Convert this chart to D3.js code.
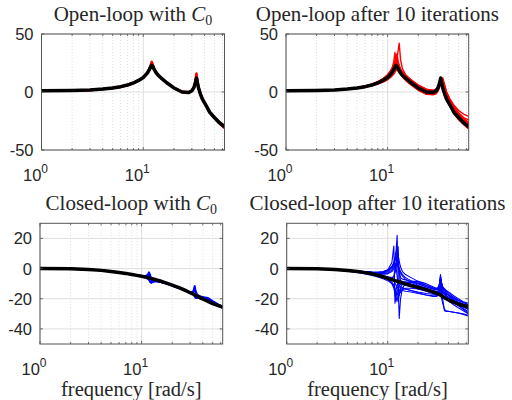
<!DOCTYPE html>
<html>
<head>
<meta charset="utf-8">
<script src="https://cdn.jsdelivr.net/npm/d3@7"></script>
<style>
  body { margin: 0; background: #fff; }
  svg { display: block; }
</style>
</head>
<body>
<div class="chart"></div>
<script>
// frequency grid [rad/s] shared by all curves
var freq = [1, 2, 3, 4, 5, 6, 7, 8, 9, 10, 11, 11.5, 11.8, 12.1, 12.4, 12.7, 13, 13.4, 14, 15, 17, 20, 24, 28, 30, 31.5, 32.5, 33.3, 34, 35, 36.5, 38, 41, 45, 50, 56, 62.8];

// open-loop, nominal (black) - same in both top panels
var olNominal = [1, 1.3, 1.8, 2.5, 3.5, 4.6, 6, 7.8, 10, 12.5, 16.5, 19.5, 21.5, 23, 22, 20, 18.5, 16.5, 14.5, 12, 8, 3.5, 0, -0.5, 1, 4, 8, 12, 8, 3, -2, -6, -11, -17.5, -22, -26.5, -30];

// open-loop with C0, perturbed plants (red)
var olRedC0 = [
  [1, 1.3, 1.8, 2.5, 3.5, 4.6, 6, 7.8, 10, 12.5, 16.8, 20, 23, 26, 23.5, 20.5, 18.5, 16.5, 14.5, 12, 8, 3.5, 0, -0.5, 1, 4.5, 9, 16, 10, 3.5, -2, -6, -11, -17.5, -22.5, -27, -31],
  [1, 1.3, 1.8, 2.5, 3.5, 4.6, 6, 7.8, 10, 12.5, 16.5, 19.5, 22, 24.5, 23, 20.5, 18.8, 16.8, 14.8, 12.2, 8.2, 3.7, 0.2, -0.3, 1.2, 4.2, 8.5, 14, 9, 3.2, -1.8, -5.8, -10.8, -17.2, -21.8, -26, -29]
];

// open-loop after 10 iterations (red)
var olRedIter = [
  [1, 1.3, 1.8, 2.6, 3.6, 4.8, 6.3, 8.2, 10.5, 13.5, 18, 21, 23.5, 26, 30, 36, 42, 28, 20, 15, 10, 5, 1.5, 0.5, 2, 5, 8.5, 11, 9, 4, -1, -5, -10, -16, -21, -25.5, -29],
  [1, 1.3, 1.8, 2.6, 3.7, 5, 6.6, 8.6, 11, 14.5, 20, 26, 34, 25, 21, 19, 17.5, 16, 14, 11.5, 7.5, 3, -0.5, -1, 0.5, 3, 6.5, 10, 9, 5, 0, -4, -9, -15, -20, -24.5, -28],
  [1, 1.3, 1.9, 2.7, 3.8, 5.2, 6.8, 9, 11.5, 15, 20, 23, 25, 27, 28, 26, 23, 20, 17, 14.5, 10.5, 6, 2.5, 1.5, 2.5, 4.5, 6.5, 8, 9.5, 10, 5, 0, -6, -11.5, -16, -19, -21],
  [1, 1.2, 1.6, 2.2, 3, 4, 5.3, 6.8, 8.5, 10.5, 13.5, 15.5, 17, 18.5, 19.5, 19, 17.5, 15.5, 13, 10, 6, 1.5, -2, -2.5, -1.5, 1, 4, 8, 11, 7, 1, -4, -10, -17, -23, -28, -32],
  [1, 1.3, 1.8, 2.5, 3.5, 4.7, 6.2, 8, 10.3, 13, 17.5, 21, 24, 29, 33, 26, 21, 18, 15.5, 13, 9, 4.5, 1, 0, 1, 3, 5.5, 8, 10.5, 12, 6, 0, -6, -12.5, -18, -22, -24],
  [1, 1.3, 1.8, 2.5, 3.4, 4.5, 5.9, 7.6, 9.7, 12, 15.5, 18, 20, 21.5, 21, 20, 19, 17, 15, 12.5, 8.5, 4, 0.5, -1, 0, 2.5, 5.5, 9, 12, 9, 3, -2, -8, -14.5, -20, -24, -27],
  [1, 1.3, 1.8, 2.6, 3.6, 4.8, 6.3, 8.2, 10.5, 13.5, 18, 22, 26, 32, 27, 23, 20.5, 18, 15.5, 13, 9, 4.5, 1, 0, 1.5, 4.5, 9, 13, 8, 2, -3.5, -7.5, -12.5, -19, -24, -28, -31],
  [1, 1.3, 1.8, 2.6, 3.7, 5, 6.6, 8.5, 11, 14, 19, 22.5, 25, 27, 25, 22.5, 20.5, 18.5, 16.5, 14, 10, 5.5, 2, 1, 2.5, 5.5, 9, 12.5, 10, 5, -0.5, -4.5, -9.5, -15.5, -20.5, -24.5, -28],
  [1, 1.2, 1.7, 2.3, 3.2, 4.3, 5.6, 7.2, 9, 11.5, 15, 17.5, 19, 20, 19.5, 18, 16.5, 15, 13, 10.5, 6.5, 2, -1.5, -2, -1, 2, 5.5, 10, 10.5, 6, 0.5, -4.5, -10.5, -17, -22.5, -27, -30.5],
  [1, 1.3, 1.9, 2.7, 3.8, 5.1, 6.7, 8.8, 11.3, 14.5, 19.5, 23.5, 27, 30, 28, 24.5, 22, 19.5, 17, 14, 10, 5.5, 2, 0.5, 1.5, 4, 7, 10.5, 11.5, 8, 2, -3, -8.5, -14.5, -19.5, -23.5, -26.5],
  [1, 1.3, 1.8, 2.5, 3.5, 4.7, 6.1, 7.9, 10, 12.8, 17, 20, 22.5, 24.5, 24, 22.5, 21, 19, 17, 14.5, 10.5, 6, 2.5, 1, 1.5, 3.5, 6, 9, 10, 8, 3.5, -1, -7, -13.5, -19, -23, -26]
];

// closed-loop with C0: nominal (black) and perturbed (blue)
var clNominalC0 = [0, -0.2, -0.6, -1.2, -1.9, -2.6, -3.2, -3.9, -4.5, -5.1, -5.7, -6, -6.2, -6.4, -6.5, -6.7, -6.9, -7.1, -7.5, -8.1, -9.3, -11, -13, -15, -16, -16.6, -17, -17.4, -17.7, -18.2, -18.8, -19.4, -20.5, -21.8, -23.2, -24.4, -25.5];
var clBlueC0 = [
  [0, -0.2, -0.6, -1.2, -1.9, -2.6, -3.2, -3.9, -4.5, -5, -5, -4, -2.5, -4, -7, -8.5, -8.5, -8.2, -8.2, -8.6, -9.5, -11, -13, -15, -15.8, -16, -14.5, -11.5, -15, -17, -18, -18.5, -19, -19.5, -21.5, -23.5, -25.5],
  [0, -0.2, -0.6, -1.2, -1.9, -2.6, -3.2, -3.9, -4.5, -5.1, -5.6, -5.2, -4.5, -5.5, -7.5, -9, -8.8, -8.5, -8.3, -8.8, -9.6, -11.2, -13.2, -15, -15.6, -15.8, -15, -13, -16.5, -18, -18.6, -19, -19.5, -20.2, -22, -24, -26],
  [0, -0.2, -0.6, -1.2, -1.9, -2.6, -3.2, -3.9, -4.6, -5.3, -6.2, -6.8, -7.5, -8.8, -9.5, -9, -8.5, -8.3, -8.4, -8.8, -9.5, -11.2, -13.3, -15.2, -16.2, -16.8, -17.5, -18.5, -19.5, -19.5, -19.5, -19.8, -20.5, -21.5, -23, -24.5, -26]
];

// closed-loop after 10 iterations: nominal (black) and perturbed (blue)
var clNominalIter = [0, -0.2, -0.7, -1.3, -2, -2.7, -3.5, -4.4, -5.4, -6.4, -7.3, -7.7, -8, -8.2, -8.4, -8.6, -8.8, -9.1, -9.5, -10.2, -11.3, -12.5, -14, -15.5, -16.2, -16.8, -17.2, -17.6, -18, -18.5, -19.3, -20, -21.2, -22.3, -23.5, -24.5, -25.3];
var clBlueIter = [
  [0, -0.2, -0.6, -1.1, -1.7, -2.2, -2.7, -3.1, -3.3, -3, -1, 2, 6, 12, 22, -10, -33, -20, -13, -10, -8.5, -8.5, -10, -12, -13, -13.5, -12, -6, -10, -14, -16, -17, -18, -19.5, -21, -22.5, -24],
  [0, -0.2, -0.6, -1.1, -1.7, -2.3, -2.8, -3, -2.5, -1, 4, 15, -23, -14, -11, -9.5, -9, -8.5, -8.5, -9, -10, -11.5, -13, -14.5, -15, -15, -13, -8, -13, -16, -17, -18, -19.5, -21, -23, -25, -27],
  [0, -0.2, -0.6, -1.2, -1.8, -2.4, -2.8, -3, -2.8, -1.5, 1, 3.5, 5.5, 8, 6, 2, 0, -2, -4, -6, -8, -10, -12, -13.5, -14, -14, -12, -4, -9, -13, -15, -16.5, -18, -20, -22, -23.5, -25],
  [0, -0.2, -0.7, -1.4, -2.2, -3, -3.8, -4.6, -5.5, -7, -10, -13, -17, -22, -18, -15, -14, -14, -14.5, -15, -15.5, -16.5, -17.5, -18, -18, -17.5, -16, -14, -17, -20, -28, -28.5, -28.5, -29, -29.5, -30, -31],
  [0, -0.2, -0.6, -1.2, -1.8, -2.4, -3, -3.5, -3.8, -3.5, -2, 0, 2, 4, 3, 1, -1, -3, -5, -7, -9, -11, -13, -15, -15.5, -15, -13, -9, -12, -15, -17, -18.5, -20, -22, -24.5, -27, -29.5],
  [0, -0.3, -0.8, -1.5, -2.3, -3.2, -4, -4.8, -5.8, -7, -9, -11, -13, -16, -19, -22, -17, -14, -13, -13.5, -14.5, -15.5, -16.5, -17, -17, -16.5, -15, -12, -16, -18, -19.5, -20.5, -21.5, -22.5, -24, -25.5, -27],
  [0, -0.2, -0.6, -1.1, -1.6, -2.1, -2.5, -2.6, -2.2, -1, 1.5, 4, 7, 10, 14, 6, -2, -6, -7, -7.5, -8.5, -10, -12, -13.5, -14, -13.5, -11.5, -7, -10, -12.5, -13.5, -14.5, -16, -18, -20, -22, -23],
  [0, -0.3, -0.8, -1.5, -2.3, -3.1, -3.9, -4.8, -5.6, -6.5, -7.5, -8.5, -9.5, -11, -13, -12, -11, -10.5, -10.5, -11, -12, -13.5, -15, -16.5, -17, -16.5, -15, -11, -14, -17, -19, -20.5, -22, -24, -26, -28, -30],
  [0, -0.2, -0.6, -1.1, -1.7, -2.2, -2.6, -2.9, -2.8, -2.2, 0, 2, 3, 1, -5, -12, -18, -13, -10, -9, -9, -9.5, -11, -12.5, -13, -12.5, -10, -5, -9, -12, -14, -16, -18.5, -21, -23, -25, -27],
  [0, -0.2, -0.7, -1.3, -2, -2.7, -3.5, -4.3, -5, -6, -7, -5, -2, 3, 9, 14.5, -8, -16, -14, -13, -13, -13.5, -14.5, -15.5, -16, -16, -15, -12, -15.5, -17.5, -18.5, -19.5, -21, -22.5, -24.5, -26.5, -28.5],
  [0, -0.3, -0.9, -1.7, -2.6, -3.6, -4.6, -5.6, -6.7, -8, -10, -12, -14, -17, -15, -13, -12, -12, -12.5, -13.5, -14.5, -16, -17.5, -18.5, -18.5, -18, -17, -16, -19, -23, -27, -28, -28.5, -29, -29.5, -30.5, -31.5],
  [0, -0.2, -0.5, -1, -1.5, -1.9, -2.2, -2.3, -2, -1, 1, 3, 5, 8, 11, 9, 5, 1, -2, -4, -6, -8.5, -11, -13, -13.5, -13, -11, -6.5, -9.5, -12, -13.5, -15, -17, -19, -21, -22.5, -24],
  [0, -0.2, -0.6, -1.2, -1.9, -2.6, -3.3, -4, -4.7, -5.5, -6, -5.5, -3, 1, 5, 3, -3, -8, -9.5, -10, -11, -12.5, -14, -15, -15.5, -15, -13.5, -9, -12.5, -15.5, -17, -18, -19.5, -21, -23, -25, -27]
];

var xDomain = [1, 62.8];
var xMajor = [1, 10];
var xMinor = [2, 3, 4, 5, 6, 7, 8, 9, 20, 30, 40, 50, 60];
var yTicksTop = [-50, 0, 50];
var yTicksBottom = [-40, -20, 0, 20];
var titleMain = ["Open-loop with ", "Open-loop after 10 iterations", "Closed-loop with ", "Closed-loop after 10 iterations"];
var xLabel = "frequency [rad/s]";

var width = 512, height = 400;
var svg = d3.select(".chart").append("svg")
    .attr("width", width)
    .attr("height", height);

// panel boxes in pixels
var panels = [
  {x0: 41.5, x1: 224.5, y0: 34, y1: 150, yDom: [-50, 50], yTicks: yTicksTop, title: titleMain[0], c0: true,
   colored: olRedC0, color: "#ff0000", width: 2.5, nominal: olNominal, xlab: false},
  {x0: 286, x1: 468.7, y0: 34, y1: 150, yDom: [-50, 50], yTicks: yTicksTop, title: titleMain[1], c0: false,
   colored: olRedIter, color: "#ff0000", width: 1.4, nominal: olNominal, xlab: false},
  {x0: 40, x1: 222.7, y0: 223.3, y1: 344, yDom: [-50, 30], yTicks: yTicksBottom, title: titleMain[2], c0: true,
   colored: clBlueC0, color: "#0000ff", width: 2, nominal: clNominalC0, xlab: true},
  {x0: 286.7, x1: 468.3, y0: 223.3, y1: 344, yDom: [-50, 30], yTicks: yTicksBottom, title: titleMain[3], c0: false,
   colored: clBlueIter, color: "#0000ff", width: 1.1, nominal: clNominalIter, xlab: true}
];

var tickFont = "'Liberation Sans', Arial, Helvetica, sans-serif";
var serifFont = "'Liberation Serif', 'DejaVu Serif', serif";

panels.forEach(function(p, i) {
  var x = d3.scaleLog().domain(xDomain).range([p.x0, p.x1]);
  var y = d3.scaleLinear().domain(p.yDom).range([p.y1, p.y0]);
  var g = svg.append("g");

  g.append("rect")
    .attr("x", p.x0).attr("y", p.y0)
    .attr("width", p.x1 - p.x0).attr("height", p.y1 - p.y0)
    .attr("fill", "#fff");

  // minor grid (dotted)
  g.selectAll(".minor").data(xMinor).enter().append("line")
    .attr("x1", d => x(d)).attr("x2", d => x(d))
    .attr("y1", p.y0).attr("y2", p.y1)
    .attr("stroke", "#d4d4d4").attr("stroke-width", 0.8)
    .attr("stroke-dasharray", "1,2");
  // major grid
  g.selectAll(".major").data(xMajor).enter().append("line")
    .attr("x1", d => x(d)).attr("x2", d => x(d))
    .attr("y1", p.y0).attr("y2", p.y1)
    .attr("stroke", "#dedede").attr("stroke-width", 1);
  g.selectAll(".ygrid").data(p.yTicks).enter().append("line")
    .attr("x1", p.x0).attr("x2", p.x1)
    .attr("y1", d => y(d)).attr("y2", d => y(d))
    .attr("stroke", "#dedede").attr("stroke-width", 1);

  // curves
  var clipId = "clip" + i;
  g.append("clipPath").attr("id", clipId).append("rect")
    .attr("x", p.x0).attr("y", p.y0)
    .attr("width", p.x1 - p.x0).attr("height", p.y1 - p.y0);
  var line = d3.line().x(d => x(d[0])).y(d => y(d[1]));
  var cg = g.append("g").attr("clip-path", "url(#" + clipId + ")");

  // perturbed curves first, nominal on top
  cg.selectAll(".pert").data(p.colored).enter().append("path")
    .attr("d", d => line(d3.zip(freq, d)))
    .attr("fill", "none")
    .attr("stroke", p.color)
    .attr("stroke-width", p.width)
    .attr("stroke-linejoin", "round");
  cg.append("path")
    .attr("d", line(d3.zip(freq, p.nominal)))
    .attr("fill", "none")
    .attr("stroke", "#000")
    .attr("stroke-width", 3.5)
    .attr("stroke-linejoin", "round");

  // ticks (inside, all four sides)
  var tl = 3, tlm = 2;
  var tk = g.append("g").attr("stroke", "#4d4d4d").attr("stroke-width", 0.8);
  xMajor.concat(xMinor).forEach(function(v) {
    var len = xMajor.indexOf(v) >= 0 ? tl : tlm;
    tk.append("line").attr("x1", x(v)).attr("x2", x(v)).attr("y1", p.y1).attr("y2", p.y1 - len);
    tk.append("line").attr("x1", x(v)).attr("x2", x(v)).attr("y1", p.y0).attr("y2", p.y0 + len);
  });
  p.yTicks.forEach(function(v) {
    tk.append("line").attr("x1", p.x0).attr("x2", p.x0 + tl).attr("y1", y(v)).attr("y2", y(v));
    tk.append("line").attr("x1", p.x1).attr("x2", p.x1 - tl).attr("y1", y(v)).attr("y2", y(v));
  });

  // box
  g.append("rect")
    .attr("x", p.x0).attr("y", p.y0)
    .attr("width", p.x1 - p.x0).attr("height", p.y1 - p.y0)
    .attr("fill", "none")
    .attr("stroke", "#555").attr("stroke-width", 1);

  // y tick labels
  g.selectAll(".ylab").data(p.yTicks).enter().append("text")
    .attr("x", p.x0 - 8)
    .attr("y", d => y(d))
    .attr("dy", "0.36em")
    .attr("text-anchor", "end")
    .attr("font-family", tickFont)
    .attr("font-size", 16.5)
    .attr("fill", "#262626")
    .text(d => d);

  // x tick labels 10^n
  xMajor.forEach(function(v) {
    var t = g.append("text")
      .attr("x", x(v) - 6)
      .attr("y", p.y1 + 31)
      .attr("text-anchor", "middle")
      .attr("font-family", tickFont)
      .attr("font-size", 16.5)
      .attr("fill", "#262626");
    t.append("tspan").text("10");
    t.append("tspan").attr("dy", -8).attr("font-size", 12).text(Math.round(Math.log10(v)));
  });

  // title
  var tt = g.append("text")
    .attr("x", (p.x0 + p.x1) / 2)
    .attr("y", p.y0 - 13)
    .attr("text-anchor", "middle")
    .attr("font-family", serifFont)
    .attr("font-size", 21)
    .attr("fill", "#262626");
  tt.append("tspan").text(p.title);
  if (p.c0) {
    tt.append("tspan").attr("font-style", "italic").text("C");
    tt.append("tspan").attr("font-size", 14).attr("dy", 4).text("0");
  }

  if (p.xlab) {
    g.append("text")
      .attr("x", (p.x0 + p.x1) / 2)
      .attr("y", 396)
      .attr("text-anchor", "middle")
      .attr("font-family", serifFont)
      .attr("font-size", 20.5)
      .attr("fill", "#262626")
      .text(xLabel);
  }
});
</script>
</body>
</html>
